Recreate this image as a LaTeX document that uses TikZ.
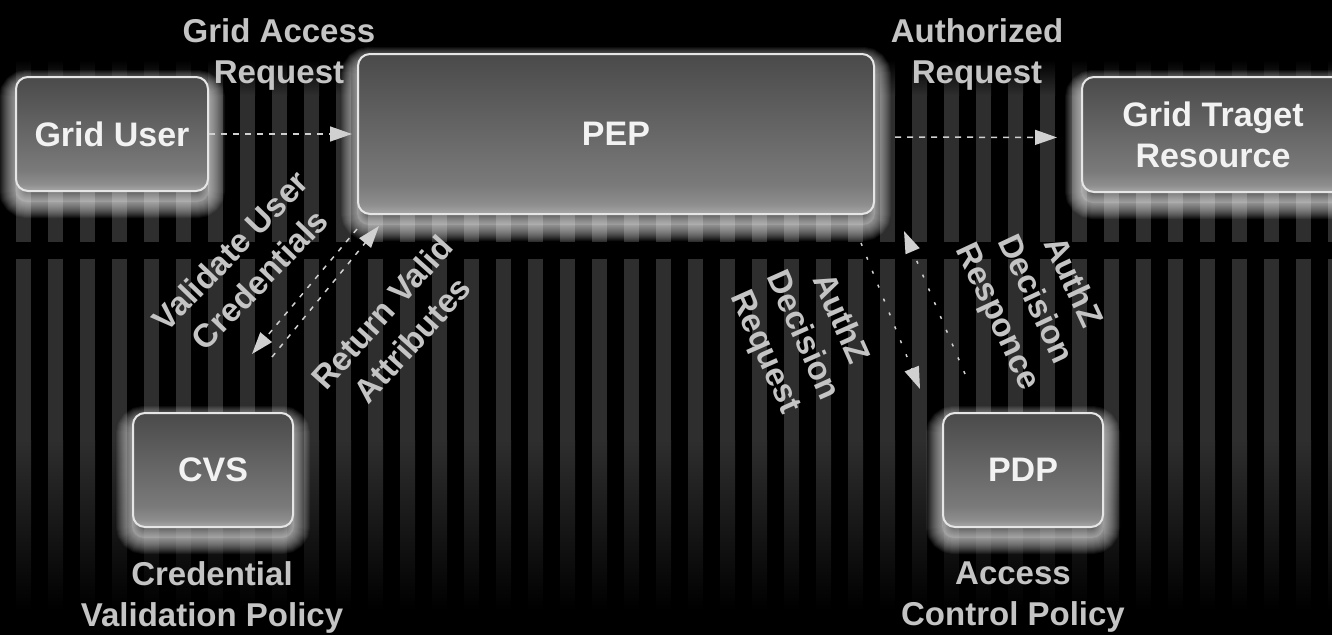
\documentclass[tikz,border=0pt]{standalone}
\usepackage{fontspec}
\setmainfont{Liberation Sans}
\usetikzlibrary{arrows.meta,backgrounds,calc}

\definecolor{stripe}{HTML}{2E2E2E}
\definecolor{lblgray}{HTML}{C4C4C4}
\definecolor{boxtext}{HTML}{F2F2F2}
\definecolor{edgegray}{HTML}{E6E6E6}
\definecolor{arrowgray}{HTML}{D0D0D0}
\definecolor{bxtop}{HTML}{4A4A4A}
\definecolor{bxlow}{HTML}{7A7A7A}
\definecolor{bxmid}{HTML}{8E8E8E}
\definecolor{bxbot}{HTML}{A8A8A8}

% glossy box fill: dark at the top, bright band at the bottom
\pgfdeclareverticalshading{boxshade}{100bp}{color(0bp)=(bxbot); color(25bp)=(bxbot); color(28bp)=(bxmid); color(34bp)=(bxlow); color(75bp)=(bxtop); color(100bp)=(bxtop)}

\begin{document}
\begin{tikzpicture}[x=1pt,y=-1pt,
  box/.style={draw=edgegray, line width=2pt, rounded corners=12pt, shading=boxshade,
    text=boxtext, font=\fontsize{34}{41}\selectfont\bfseries, align=center, inner sep=0pt},
  lbl/.style={text=lblgray, font=\fontsize{33}{41}\selectfont\bfseries, align=center, inner sep=0pt},
  flow/.style={color=arrowgray, line width=1.5pt, dash pattern=on 6pt off 6pt,
    -{Triangle[length=22pt,width=15pt]}},
  diag/.style={flow, dash pattern=on 5pt off 7pt},
  steep/.style={flow, dash pattern=on 3pt off 12pt},
]
\useasboundingbox (0,0) rectangle (1332,635);

% components
\node[box, minimum width=192pt, minimum height=114pt] (user) at (112,134) {Grid User};
\node[box, minimum width=516pt, minimum height=160pt] (pep) at (616,134) {PEP};
\node[box, minimum width=262pt, minimum height=115pt] (target) at (1213,134.5) {Grid Traget\\Resource};
\node[box, minimum width=160pt, minimum height=114pt] (cvs) at (213,470) {CVS};
\node[box, minimum width=160pt, minimum height=114pt] (pdp) at (1023,470) {PDP};

% backdrop, stripes and the downward glow behind the boxes
\begin{scope}[on background layer]
  \fill[black] (0,0) rectangle (1332,635);
  \foreach \k in {0,...,41} {
    \shade[top color=black, bottom color=stripe] ({16+32*\k},60) rectangle ++(15,35);
    \fill[stripe] ({16+32*\k},94.5) rectangle ++(15,147.5);
    \fill[stripe] ({16+32*\k},259) rectangle ++(15,181.5);
    \shade[top color=stripe, bottom color=black] ({16+32*\k},440) rectangle ++(15,170);
  }
  \foreach \n in {user,pep,target,cvs,pdp} {
    \fill[white, opacity=0.15, rounded corners=12pt]
      ([yshift=-10pt]\n.south west) rectangle ([yshift=-10pt]\n.north east);
    \foreach \w in {2,4,...,32} {
      \draw[white, opacity=0.05, line width=\w pt, rounded corners=12pt]
        ([yshift=-10pt]\n.south west) rectangle ([yshift=-10pt]\n.north east);
    }
  }
\end{scope}

% message flows
\draw[flow, shorten >=5pt] (user.east) -- (pep.west);
\draw[flow, shorten <=20pt, shorten >=24pt] ([yshift=-3pt]pep.east) -- ([yshift=-3pt]target.west);
\draw[diag] ($(pep.south west)+(0,14)$) -- ($(cvs.north)+(39,-58)$);
\draw[diag] ($(cvs.north)+(59,-55)$) -- ($(pep.south west)+(22,11)$);
\draw[steep] ($(pep.south east)+(-14,28)$) -- ($(pdp.north)+(-103,-23)$);
\draw[steep] ($(pdp.north)+(-58,-38)$) -- ($(pep.south east)+(29,16)$);

% labels
\node[lbl] (lga) at (279,54) {Grid Access\\Request};
\node[lbl] (lar) at (977,54) {Authorized\\Request};
\node[lbl] (lcv) at (212,597) {Credential\\Validation Policy};
\node[lbl] (lac) at (1013,597) {Access\\Control Policy};
\node[lbl, rotate=46] (lvu) at (245,265) {Validate User\\Credentials};
\node[lbl, rotate=48] (lrv) at (397,326) {Return Valid\\Attributes};
\node[lbl, rotate=-66] (lrq) at (802,336) {AuthZ\\Decision\\Request};
\node[lbl, rotate=-65] (lrs) at (1034,300) {AuthZ\\Decision\\Responce};
\end{tikzpicture}
\end{document}
